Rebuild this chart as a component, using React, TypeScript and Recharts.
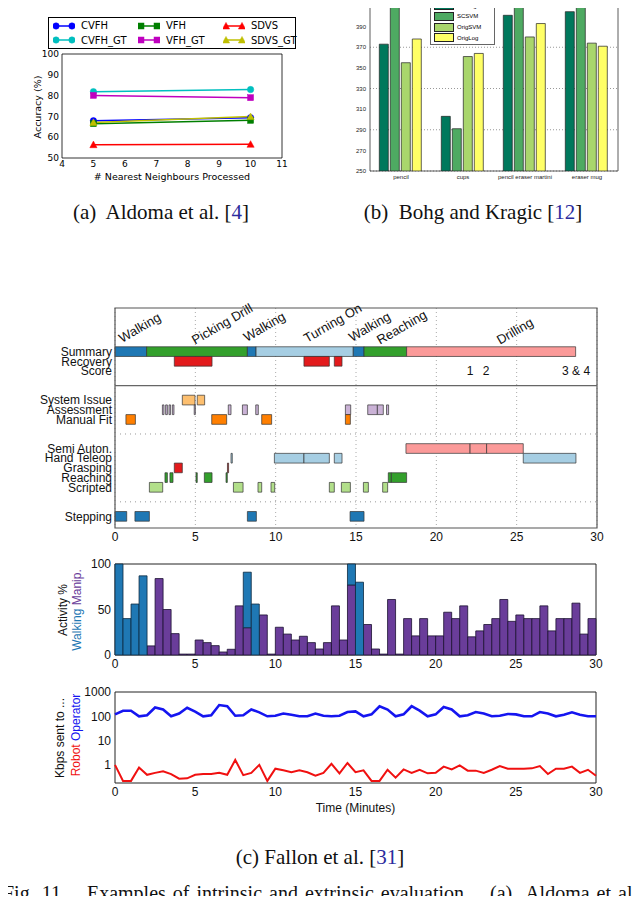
import React from 'react';
import {
  Bar,
  BarChart,
  CartesianGrid,
  Line,
  LineChart,
  ReferenceArea,
  ReferenceLine,
  Scatter,
  ScatterChart,
  XAxis,
  YAxis,
} from 'recharts';

const SANS = '"Liberation Sans", Arial, Helvetica, sans-serif';
const DEJAVU = '"DejaVu Sans", sans-serif';
const SERIF = '"Liberation Serif", "Times New Roman", serif';
const LINK = '#2b2b9e';

// (a) accuracy vs. number of neighbours
const neighbours = [5, 10];
const cvfh = [67.9, 69.4];
const cvfhGt = [81.9, 82.9];
const vfh = [66.5, 68.1];
const vfhGt = [80.1, 79.0];
const sdvs = [56.4, 56.6];
const sdvsGt = [67.1, 69.9];

// (b) grasp point bars
const objects = ['pencil', 'cups', 'pencil eraser martini', 'eraser mug'];
const scOrigSvm = [373, 303, 401, 404.5];
const scSvm = [409, 291, 422, 409];
const origSvm = [355, 361, 380, 374];
const origLog = [378, 364, 393, 371];
const graspTicks = [250, 270, 290, 310, 330, 350, 370, 390, 410];

// (c) timeline rows, spans in minutes
const rowNames = ['Summary', 'Recovery', 'Score', 'System Issue', 'Assessment', 'Manual Fit',
  'Semi Auton.', 'Hand Teleop', 'Grasping', 'Reaching', 'Scripted', 'Stepping'];
const rowSlots = [4.5, 5.5, 6.5, 9.5, 10.5, 11.5, 14.5, 15.5, 16.5, 17.5, 18.5, 21.5];

const summarySpans: [number, number, string][] = [
  [0, 1.97, 'walk'], [1.97, 8.24, 'manip'], [8.24, 8.78, 'walk'], [8.78, 14.83, 'teleop'],
  [14.83, 15.5, 'walk'], [15.5, 18.15, 'manip'], [18.15, 28.67, 'drill'],
];
const recoverySpans = [[3.69, 6.04], [11.76, 13.34], [13.65, 14.13]];
const systemIssueSpans = [[4.19, 4.98], [5.12, 5.58]];
const assessmentSpans = [[2.95, 3.05], [3.15, 3.26], [3.36, 3.46], [3.57, 3.67], [4.93, 5.0],
  [7.05, 7.22], [7.93, 8.24], [8.76, 8.92], [14.34, 14.67], [15.73, 16.33], [16.33, 16.7], [16.9, 17.03]];
const manualFitSpans = [[0.68, 1.27], [6.02, 6.95], [9.13, 9.75], [14.34, 14.65]];
const semiAutonSpans = [[18.11, 22.1], [22.1, 23.13], [23.13, 25.41]];
const handTeleopSpans = [[7.22, 7.3], [9.92, 11.76], [11.76, 13.34], [13.65, 14.13], [25.41, 28.69]];
const graspingSpans = [[3.69, 4.19], [7.0, 7.07]];
const reachingSpans = [[3.11, 3.26], [3.42, 3.61], [5.04, 5.12], [5.56, 6.04], [6.91, 6.99],
  [17.01, 17.2], [17.2, 18.15]];
const scriptedSpans = [[2.14, 2.97], [7.37, 7.97], [8.9, 9.13], [9.71, 9.94], [13.34, 13.65],
  [14.09, 14.65], [15.46, 15.77], [16.66, 16.97]];
const steppingSpans = [[0, 0.73], [1.24, 2.14], [8.24, 8.8], [14.63, 15.5]];

const phaseLabels = [
  { x: 0.44, y: 3.6, label: 'Walking' },
  { x: 4.98, y: 3.8, label: 'Picking Drill' },
  { x: 8.2, y: 3.5, label: 'Walking' },
  { x: 11.95, y: 3.6, label: 'Turning On' },
  { x: 14.75, y: 3.5, label: 'Walking' },
  { x: 16.5, y: 3.8, label: 'Reaching' },
  { x: 23.96, y: 3.8, label: 'Drilling' },
];
const scoreLabels = [
  { x: 22.1, y: 6.5, label: '1' },
  { x: 23.1, y: 6.5, label: '2' },
  { x: 28.7, y: 6.5, label: '3 & 4' },
];

// (c) activity per 30 s bin
const manipActivity = [0, 0, 0, 0, 10, 84, 50, 23.5, 1, 1, 16.5, 13.6, 10.3, 3.3, 6.3, 54, 30, 0, 44, 1,
  30.5, 23, 16.5, 20.6, 13.6, 6.6, 13.6, 54, 16.5, 77, 0, 33.5, 6.6, 1, 61, 1, 40, 21, 40, 21,
  21, 47, 40, 54, 20, 26.5, 33.5, 40, 61, 37, 44, 40, 40, 54, 26.5, 40, 40, 57, 23, 40];
const walkingActivity = [100, 40, 56, 87, 0, 0, 0, 0, 0, 0, 0, 0, 0, 0, 0, 0, 61, 56, 0, 0,
  0, 0, 0, 0, 0, 0, 0, 0, 0, 23, 80, 0, 0, 0, 0, 0, 0, 0, 0, 0,
  0, 0, 0, 0, 0, 0, 0, 0, 0, 0, 0, 0, 0, 0, 0, 0, 0, 0, 0, 0];

// (c) bandwidth, sampled every 30 s
const operatorKbps = [120, 170, 170, 100, 110, 230, 190, 100, 130, 225, 155, 100, 110, 290, 260, 105,
  110, 190, 145, 100, 105, 130, 115, 100, 100, 130, 105, 100, 105, 150, 160, 100, 120, 260, 190,
  100, 120, 260, 170, 100, 120, 240, 190, 100, 110, 150, 130, 100, 105, 125, 120, 100, 100, 150,
  130, 100, 115, 145, 115, 100, 100];
const robotKbps = [1.0, 0.22, 0.22, 0.78, 0.39, 0.47, 0.55, 0.42, 0.27, 0.28, 0.39, 0.42, 0.42, 0.47,
  0.39, 1.6, 0.38, 0.47, 1.0, 0.22, 0.7, 0.6, 0.5, 0.6, 0.5, 0.36, 0.47, 1.1, 0.45, 1.2, 0.5, 0.6,
  0.22, 0.22, 0.63, 0.3, 0.65, 0.47, 0.63, 0.45, 0.47, 0.85, 0.65, 0.95, 0.58, 0.58, 0.47, 0.63,
  0.9, 0.7, 0.7, 0.7, 0.72, 0.9, 0.42, 0.7, 0.7, 0.85, 0.47, 0.63, 0.36];

const minuteTicks = [0, 5, 10, 15, 20, 25, 30];

const accuracySeries = [
  { key: 'CVFH', values: cvfh, color: '#0000ff', marker: 'circle' },
  { key: 'CVFH_GT', values: cvfhGt, color: '#00bfbf', marker: 'circle' },
  { key: 'VFH', values: vfh, color: '#007f00', marker: 'square' },
  { key: 'VFH_GT', values: vfhGt, color: '#bf00bf', marker: 'square' },
  { key: 'SDVS', values: sdvs, color: '#ff0000', marker: 'triangle' },
  { key: 'SDVS_GT', values: sdvsGt, color: '#bfbf00', marker: 'triangle' },
];

const graspSeries = [
  { key: 'SCOrigSVM', values: scOrigSvm, color: '#00785c' },
  { key: 'SCSVM', values: scSvm, color: '#4eaa62' },
  { key: 'OrigSVM', values: origSvm, color: '#a9d66c' },
  { key: 'OrigLog', values: origLog, color: '#ffff66' },
];

const phaseColors: Record<string, string> = {
  walk: '#1f78b4',
  manip: '#33a02c',
  teleop: '#a6cee3',
  drill: '#fb9a99',
};

const rowSpans: { row: string; spans: number[][]; color: string }[] = [
  { row: 'Recovery', spans: recoverySpans, color: '#e31a1c' },
  { row: 'System Issue', spans: systemIssueSpans, color: '#fdbf6f' },
  { row: 'Assessment', spans: assessmentSpans, color: '#cab2d6' },
  { row: 'Manual Fit', spans: manualFitSpans, color: '#ff7f00' },
  { row: 'Semi Auton.', spans: semiAutonSpans, color: '#fb9a99' },
  { row: 'Hand Teleop', spans: handTeleopSpans, color: '#a6cee3' },
  { row: 'Grasping', spans: graspingSpans, color: '#e31a1c' },
  { row: 'Reaching', spans: reachingSpans, color: '#33a02c' },
  { row: 'Scripted', spans: scriptedSpans, color: '#b2df8a' },
  { row: 'Stepping', spans: steppingSpans, color: '#1f78b4' },
];

const slotOf = (row: string) => rowSlots[rowNames.indexOf(row)];

function Marker({ cx, cy, kind, color }: { cx?: number; cy?: number; kind: string; color: string }) {
  if (cx == null || cy == null) return null;
  if (kind === 'square') {
    return <rect x={cx - 3} y={cy - 3} width={6} height={6} fill={color} stroke={color} strokeWidth={0.5} />;
  }
  if (kind === 'triangle') {
    return (
      <polygon
        points={`${cx},${cy - 3.6} ${cx + 3.6},${cy + 3} ${cx - 3.6},${cy + 3}`}
        fill={color}
        stroke={color}
        strokeWidth={0.5}
      />
    );
  }
  return <circle cx={cx} cy={cy} r={3.2} fill={color} stroke={color} strokeWidth={0.5} />;
}

const PhaseLabel = (p: any) => (
  <text
    x={p.cx}
    y={p.cy}
    transform={`rotate(-30 ${p.cx} ${p.cy})`}
    fontSize={13}
    fontFamily={SANS}
    fill="#111"
  >
    {p.payload.label}
  </text>
);

const ScoreLabel = (p: any) => (
  <text x={p.cx} y={p.cy + 4.5} textAnchor="middle" fontSize={12} fontFamily={SANS} fill="#111">
    {p.payload.label}
  </text>
);

function AccuracyLegend() {
  return (
    <div
      style={{
        position: 'absolute',
        left: 48,
        top: 17,
        width: 246,
        height: 30,
        border: '1px solid #000',
        background: '#fff',
        fontFamily: DEJAVU,
        fontSize: 10,
      }}
    >
      {accuracySeries.map((s, i) => {
        const col = Math.floor(i / 2);
        const row = i % 2;
        return (
          <div
            key={s.key}
            style={{ position: 'absolute', left: 4 + col * 85, top: 1 + row * 14.5, height: 13, display: 'flex', alignItems: 'center' }}
          >
            <svg width={22} height={10}>
              <line x1={2} x2={20} y1={5} y2={5} stroke={s.color} strokeWidth={1.5} />
              <Marker cx={3} cy={5} kind={s.marker} color={s.color} />
              <Marker cx={19} cy={5} kind={s.marker} color={s.color} />
            </svg>
            <span style={{ marginLeft: 6 }}>{s.key}</span>
          </div>
        );
      })}
    </div>
  );
}

function GraspLegend() {
  return (
    <div
      style={{
        position: 'absolute',
        left: 430,
        top: -2,
        width: 63,
        height: 45,
        border: '1px solid #666',
        background: '#fff',
        fontFamily: SANS,
        fontSize: 6,
      }}
    >
      {graspSeries.map((s, i) => (
        <div key={s.key} style={{ position: 'absolute', left: 3, top: 2 + i * 10.8, display: 'flex', alignItems: 'center' }}>
          <div style={{ width: 18, height: 7, background: s.color, border: '1px solid #222' }} />
          <span style={{ marginLeft: 3 }}>{s.key}</span>
        </div>
      ))}
    </div>
  );
}

export default function App() {
  const accuracyData = neighbours.map((n, i) => {
    const row: Record<string, number> = { n };
    accuracySeries.forEach((s) => {
      row[s.key] = s.values[i];
    });
    return row;
  });

  const graspData = objects.map((name, i) => {
    const row: Record<string, any> = { name };
    graspSeries.forEach((s) => {
      row[s.key] = s.values[i];
    });
    return row;
  });

  const activityData = manipActivity.map((m, i) => ({
    t: i * 0.5 + 0.25,
    manip: m,
    walking: walkingActivity[i],
  }));

  const trafficData = operatorKbps.map((o, i) => ({ t: i * 0.5, operator: o, robot: robotKbps[i] }));

  const smallTick = { fontSize: 9, fill: '#000', fontFamily: DEJAVU };
  const tinyTick = { fontSize: 6, fill: '#222', fontFamily: SANS };
  const tick12 = { fontSize: 12, fill: '#111', fontFamily: SANS };
  const caption = { position: 'absolute' as const, fontFamily: SERIF, fontSize: 21, lineHeight: '24px', textAlign: 'center' as const, whiteSpace: 'pre' as const, color: '#111' };

  return (
    <div style={{ position: 'relative', width: 640, height: 904, margin: -8, overflow: 'hidden', background: '#fff' }}>
      {/* (a) */}
      <div style={{ position: 'absolute', left: 0, top: 0 }}>
        <LineChart width={320} height={200} data={accuracyData} margin={{ top: 54, right: 38, bottom: 12, left: 0 }}>
          <XAxis
            dataKey="n"
            type="number"
            domain={[4, 11]}
            ticks={[4, 5, 6, 7, 8, 9, 10, 11]}
            height={30}
            tick={smallTick}
            tickLine={false}
            axisLine={false}
            tickSize={0}
            tickMargin={3}
            label={{ value: '# Nearest Neighbours Processed', position: 'insideBottom', offset: 8, fontSize: 9.5, fill: '#000', fontFamily: DEJAVU }}
          />
          <YAxis
            type="number"
            domain={[50, 100]}
            ticks={[50, 60, 70, 80, 90, 100]}
            width={62}
            tick={smallTick}
            tickLine={false}
            axisLine={false}
            tickSize={0}
            tickMargin={3}
          />
          <ReferenceArea x1={4} x2={11} y1={50} y2={100} fill="none" stroke="#000" strokeWidth={0.8} />
          {accuracySeries.map((s) => (
            <Line
              key={s.key}
              dataKey={s.key}
              stroke={s.color}
              strokeWidth={1.5}
              isAnimationActive={false}
              dot={(p: any) => <Marker key={`${s.key}-${p.index}`} cx={p.cx} cy={p.cy} kind={s.marker} color={s.color} />}
            />
          ))}
        </LineChart>
      </div>
      <AccuracyLegend />

      {/* (b) */}
      <div style={{ position: 'absolute', left: 320, top: -20 }}>
        <BarChart
          width={300}
          height={220}
          data={graspData}
          margin={{ top: 15.7, right: 2, bottom: 9, left: 0 }}
          barCategoryGap="15%"
          barGap={2}
        >
          <CartesianGrid vertical={false} stroke="#999" strokeDasharray="1 2" />
          <XAxis dataKey="name" height={20} tick={tinyTick} tickLine={false} axisLine={false} tickSize={0} tickMargin={4} interval={0} />
          <YAxis
            type="number"
            domain={[250, 420]}
            ticks={graspTicks}
            allowDataOverflow
            width={50}
            tick={tinyTick}
            tickLine={false}
            axisLine={false}
            tickSize={0}
            tickMargin={4}
          />
          {graspSeries.map((s) => (
            <Bar key={s.key} dataKey={s.key} fill={s.color} stroke="#222" strokeWidth={0.7} isAnimationActive={false} />
          ))}
          <ReferenceArea y1={250} y2={420} fill="none" stroke="#333" strokeWidth={0.8} />
        </BarChart>
      </div>
      <GraspLegend />

      {/* (c) timeline */}
      <div style={{ position: 'absolute', left: 0, top: 290 }}>
        <ScatterChart width={640} height={260} margin={{ top: 18, right: 43, bottom: 4, left: 0 }}>
          <CartesianGrid horizontal={false} stroke="#aaa" strokeDasharray="1 3" />
          <XAxis
            type="number"
            dataKey="x"
            domain={[0, 30]}
            ticks={minuteTicks}
            height={18}
            tick={tick12}
            tickLine={false}
            axisLine={false}
            tickSize={0}
            tickMargin={4}
          />
          <YAxis
            type="number"
            dataKey="y"
            domain={[0, 22.7]}
            reversed
            ticks={rowSlots}
            interval={0}
            tickFormatter={(v: number) => rowNames[rowSlots.indexOf(v)]}
            width={115}
            tick={tick12}
            tickLine={false}
            axisLine={false}
            tickSize={0}
            tickMargin={3}
          />
          <ReferenceLine y={8} stroke="#666" strokeWidth={1.2} />
          <ReferenceLine y={13} stroke="#999" strokeDasharray="1 4" />
          <ReferenceLine y={20} stroke="#999" strokeDasharray="1 4" />
          {summarySpans.map(([a, b, phase], i) => (
            <ReferenceArea
              key={`sum-${i}`}
              x1={a}
              x2={b}
              y1={slotOf('Summary') - 0.5}
              y2={slotOf('Summary') + 0.5}
              fill={phaseColors[phase]}
              fillOpacity={1}
              stroke="#333"
              strokeWidth={0.7}
            />
          ))}
          {rowSpans.flatMap((r) =>
            r.spans.map(([a, b], i) => (
              <ReferenceArea
                key={`${r.row}-${i}`}
                x1={a}
                x2={b}
                y1={slotOf(r.row) - 0.5}
                y2={slotOf(r.row) + 0.5}
                fill={r.color}
                fillOpacity={1}
                stroke="#333"
                strokeWidth={0.7}
              />
            ))
          )}
          <ReferenceArea x1={0} x2={30} y1={0} y2={22.7} fill="none" stroke="#555" strokeWidth={1.2} />
          <Scatter data={phaseLabels} shape={PhaseLabel} isAnimationActive={false} />
          <Scatter data={scoreLabels} shape={ScoreLabel} isAnimationActive={false} />
        </ScatterChart>
      </div>

      {/* (c) activity */}
      <div style={{ position: 'absolute', left: 0, top: 550 }}>
        <BarChart width={640} height={130} data={activityData} margin={{ top: 14, right: 44, bottom: 7, left: 0 }} barSize={8} barGap={0}>
          <XAxis
            type="number"
            dataKey="t"
            domain={[0, 30]}
            ticks={minuteTicks}
            height={18}
            tick={tick12}
            tickLine={false}
            axisLine={false}
            tickSize={0}
            tickMargin={4}
          />
          <YAxis
            type="number"
            domain={[0, 100]}
            ticks={[0, 50, 100]}
            width={115}
            tick={tick12}
            tickLine={false}
            axisLine={false}
            tickSize={0}
            tickMargin={4}
          />
          <Bar dataKey="manip" stackId="a" fill="#6a3d9a" stroke="#1b1030" strokeWidth={0.8} isAnimationActive={false} />
          <Bar dataKey="walking" stackId="a" fill="#1f78b4" stroke="#0d2a40" strokeWidth={0.8} isAnimationActive={false} />
          <ReferenceArea x1={0} x2={30} y1={0} y2={100} fill="none" stroke="#222" strokeWidth={1} />
        </BarChart>
      </div>

      {/* (c) bandwidth */}
      <div style={{ position: 'absolute', left: 0, top: 680 }}>
        <LineChart width={640} height={140} data={trafficData} margin={{ top: 12, right: 44, bottom: 7, left: 0 }}>
          <XAxis
            type="number"
            dataKey="t"
            domain={[0, 30]}
            ticks={minuteTicks}
            height={30}
            tick={tick12}
            tickLine={false}
            axisLine={false}
            tickSize={0}
            tickMargin={4}
            label={{ value: 'Time (Minutes)', position: 'insideBottom', offset: 1, fontSize: 12, fill: '#111', fontFamily: SANS }}
          />
          <YAxis
            type="number"
            scale="log"
            domain={[0.18, 1000]}
            allowDataOverflow
            ticks={[1, 10, 100, 1000]}
            width={115}
            tick={tick12}
            tickLine={false}
            axisLine={false}
            tickSize={0}
            tickMargin={4}
          />
          <ReferenceArea x1={0} x2={30} y1={0.18} y2={1000} fill="none" stroke="#222" strokeWidth={1} />
          <Line dataKey="operator" stroke="#1515f0" strokeWidth={2.6} dot={false} isAnimationActive={false} />
          <Line dataKey="robot" stroke="#f01010" strokeWidth={2} dot={false} isAnimationActive={false} />
        </LineChart>
      </div>

      {/* rotated axis titles */}
      <svg width={640} height={904} style={{ position: 'absolute', left: 0, top: 0, pointerEvents: 'none' }}>
        <text transform="translate(40.5,107) rotate(-90)" textAnchor="middle" fontSize={9.5} fontFamily={DEJAVU} fill="#000">
          Accuracy (%)
        </text>
        <text transform="translate(67,610) rotate(-90)" textAnchor="middle" fontSize={12} fontFamily={SANS} fill="#111">
          Activity %
        </text>
        <text transform="translate(81,610) rotate(-90)" textAnchor="middle" fontSize={12} fontFamily={SANS}>
          <tspan fill="#1f78b4">Walking</tspan>
          <tspan fill="#6a3d9a">{'  Manip.'}</tspan>
        </text>
        <text transform="translate(64,738) rotate(-90)" textAnchor="middle" fontSize={12} fontFamily={SANS} fill="#111">
          Kbps sent to ...
        </text>
        <text transform="translate(80,735) rotate(-90)" textAnchor="middle" fontSize={12} fontFamily={SANS}>
          <tspan fill="#f01010">Robot</tspan>
          <tspan fill="#1515f0">{'    Operator'}</tspan>
        </text>
      </svg>

      {/* captions */}
      <div style={{ ...caption, left: 0, top: 200, width: 322 }}>
        {'(a)  Aldoma et al. ['}<span style={{ color: LINK }}>4</span>]
      </div>
      <div style={{ ...caption, left: 320, top: 200, width: 306 }}>
        {'(b)  Bohg and Kragic ['}<span style={{ color: LINK }}>12</span>]
      </div>
      <div style={{ ...caption, left: 0, top: 845, width: 640 }}>
        {'(c) Fallon et al. ['}<span style={{ color: LINK }}>31</span>]
      </div>
      <div
        style={{
          position: 'absolute',
          left: 3,
          top: 881,
          width: 760,
          fontFamily: SERIF,
          fontSize: 20,
          lineHeight: '24px',
          whiteSpace: 'pre',
          wordSpacing: 2,
          color: '#111',
        }}
      >
        {'Fig. 11.   Examples of intrinsic and extrinsic evaluation.   (a)  Aldoma et al. ['}
        <span style={{ color: LINK }}>4</span>]
      </div>
    </div>
  );
}
